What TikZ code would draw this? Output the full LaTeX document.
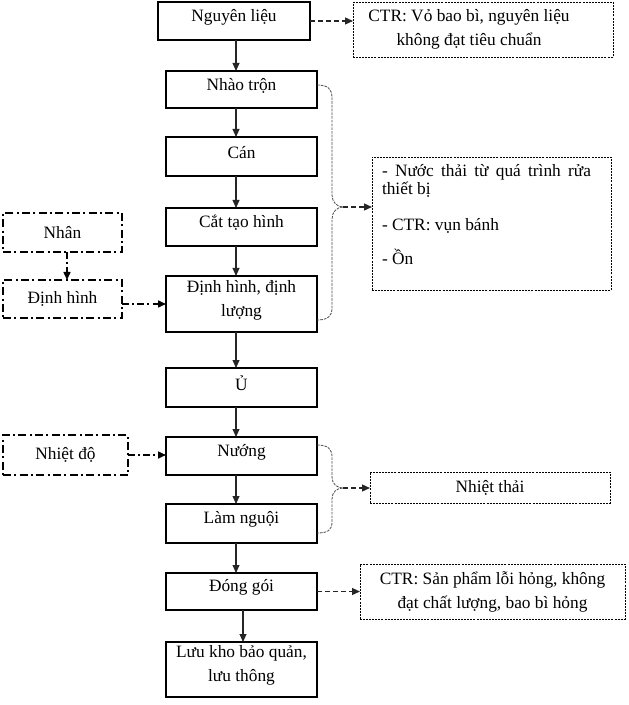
\documentclass[tikz,border=0pt]{standalone}
\usepackage{fontspec}
\setmainfont{Liberation Serif}
\usetikzlibrary{arrows.meta,calc}
\newlength{\pxu}\setlength{\pxu}{0.75pt}
\newcommand{\bxt}[3]{\parbox[c][#2\pxu][c]{#1\pxu}{\centering #3\par\vspace{8\pxu}}}
\newcommand{\cbx}[3]{\parbox[c][#2\pxu][c]{#1\pxu}{\centering #3\par}}
\tikzset{
  every node/.style={font=\fontsize{13pt}{18pt}\selectfont, inner sep=0pt, outer sep=0pt, anchor=north west},
  mbox/.style={draw=black, line width=0.8pt},
  rbox/.style={draw=black, line width=0.7pt, dash pattern=on 1.5pt off 0.8pt},
  lbox/.style={draw=black, line width=1.4pt, dash pattern=on 6pt off 2.5pt on 1.5pt off 2.5pt},
  arr/.style={draw=black!85, line width=0.8pt, -{Triangle[length=6pt,width=5.2pt]}},
  darr/.style={draw=black!85, line width=1.1pt, dash pattern=on 3.5pt off 2.5pt, -{Triangle[length=6pt,width=5.2pt]}},
  ldarr/.style={draw=black, line width=1.3pt, dash pattern=on 5pt off 2.5pt on 1.5pt off 2.5pt, -{Triangle[length=6pt,width=5.2pt]}},
  bracel/.style={draw=black!70, line width=0.6pt, dash pattern=on 2pt off 0.8pt},
}
\begin{document}
\begin{tikzpicture}[x=0.75pt, y=-0.75pt]
\useasboundingbox (0,0) rectangle (628,705);
% main column
\node[mbox] (nl) at (158,2) {\bxt{152}{38}{Nguyên liệu}};
\node[mbox] (nt) at (166,71) {\bxt{151}{37}{Nhào trộn}};
\node[mbox] (can) at (166,137) {\bxt{151}{39}{Cán}};
\node[mbox] (cth) at (166,208) {\bxt{151}{38}{Cắt tạo hình}};
\node[mbox] (dh) at (166,276) {\bxt{151}{56}{Định hình, định\\lượng}};
\node[mbox] (u) at (166,368) {\bxt{151}{39}{Ủ}};
\node[mbox] (nuong) at (166,437) {\bxt{151}{38}{Nướng}};
\node[mbox] (ln) at (166,504) {\bxt{151}{39}{Làm nguội}};
\node[mbox] (dg) at (166,573) {\bxt{151}{37}{Đóng gói}};
\node[mbox] (lk) at (166,642) {\bxt{151}{55}{Lưu kho bảo quản,\\lưu thông}};
% left column
\node[lbox] (nhan) at (3,213) {\cbx{119}{39}{Nhân}};
\node[lbox] (dhl) at (3,280) {\cbx{119}{38}{Định hình}};
\node[lbox] (nd) at (3,435) {\cbx{125}{40}{Nhiệt độ}};
% right column
\node[rbox] (ctr1) at (353,2) {\parbox[c][55\pxu][c]{260\pxu}{\parbox{232\pxu}{\centering CTR: Vỏ bao bì, nguyên liệu\\không đạt tiêu chuẩn}}};
\node[rbox] (nuoc) at (372,157) {\parbox[c][133\pxu][t]{239\pxu}{\hspace*{10\pxu}\parbox[t]{209\pxu}{\baselineskip=18\pxu \rule{0pt}{20\pxu}- Nước thải từ quá trình rửa\linebreak thiết bị\par\vspace{18\pxu}- CTR: vụn bánh\par\vspace{14\pxu}- Ồn}}};
\node[rbox] (nth) at (370,472) {\cbx{240}{31}{Nhiệt thải}};
\node[rbox] (ctr3) at (360,564) {\cbx{265}{55}{CTR: Sản phẩm lỗi hỏng, không\\đạt chất lượng, bao bì hỏng}};
% helper coordinates
\coordinate (ax) at (236,0);
\coordinate (ax2) at (243,0);
\coordinate (ax3) at (67,0);
\coordinate (ay) at (0,304);
\coordinate (t1) at (343,207);
\coordinate (t2) at (343,488);
% main arrows
\draw[arr] (nl.south -| ax) -- (nt.north -| ax);
\draw[arr] (nt.south -| ax) -- (can.north -| ax);
\draw[arr] (can.south -| ax) -- (cth.north -| ax);
\draw[arr] (cth.south -| ax) -- (dh.north -| ax);
\draw[arr] (dh.south -| ax) -- (u.north -| ax);
\draw[arr] (u.south -| ax) -- (nuong.north -| ax);
\draw[arr] (nuong.south -| ax) -- (ln.north -| ax);
\draw[arr] (ln.south -| ax) -- (dg.north -| ax);
\draw[arr] (dg.south -| ax2) -- (lk.north -| ax2);
% left arrows
\draw[ldarr] (nhan.south -| ax3) -- (dhl.north -| ax3);
\draw[ldarr] (dhl.east |- ay) -- (dh.west |- ay);
\draw[ldarr] (nd.east) -- (nd.east -| nuong.west);
% right arrows
\draw[darr] (nl.east) -- (nl.east -| ctr1.west);
\draw[darr] (t1) -- (t1 -| nuoc.west);
\draw[darr] (t2) -- (t2 -| nth.west);
\draw[darr] (dg.east) -- (dg.east -| ctr3.west);
% braces
\draw[bracel] ([yshift=4.5\pxu]nt.east) .. controls (328,85) and (332,89) .. (332,98) -- (332,195) .. controls (332,202) and (337,207) .. (t1) .. controls (337,207) and (332,212) .. (332,219) -- (332,308) .. controls (332,316) and (328,320) .. ([yshift=-16\pxu]dh.east);
\draw[bracel] ([yshift=11\pxu]nuong.east) .. controls (328,445) and (332,449) .. (332,457) -- (332,477) .. controls (332,484) and (337,488) .. (t2) .. controls (337,488) and (332,492) .. (332,499) -- (332,522) .. controls (332,530) and (328,533) .. ([yshift=-9.5\pxu]ln.east);
\end{tikzpicture}
\end{document}
